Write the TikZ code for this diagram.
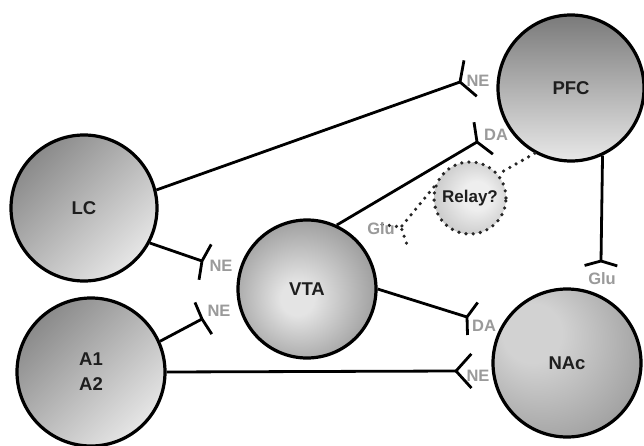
\documentclass[tikz,border=0pt]{standalone}
\usepackage{fontspec}
\setmainfont{Liberation Sans}
\usetikzlibrary{calc}
\definecolor{lbl}{HTML}{9A9A9A}
\definecolor{txt}{HTML}{1E1E1E}
\definecolor{pfcTop}{HTML}{7A7A7A}
\definecolor{pfcBot}{HTML}{E8E8E8}
\definecolor{lcTop}{HTML}{8A8A8A}
\definecolor{lcBot}{HTML}{E6E6E6}
\definecolor{vtaIn}{HTML}{E4E4E4}
\definecolor{vtaOut}{HTML}{555555}
\definecolor{nacIn}{HTML}{D2D2D2}
\definecolor{nacOut}{HTML}{666666}
\definecolor{relIn}{HTML}{EEEEEE}
\definecolor{relOut}{HTML}{A0A0A0}
\pgfdeclareradialshading{vtashade}{\pgfpoint{-4bp}{-4bp}}{color(0bp)=(vtaIn); color(6bp)=(vtaIn); color(50bp)=(vtaOut)}
\pgfdeclareradialshading{nacshade}{\pgfpoint{-14bp}{12bp}}{color(0bp)=(nacIn); color(10bp)=(nacIn); color(62bp)=(nacOut)}
\pgfdeclareradialshading{relshade}{\pgfpoint{6bp}{2bp}}{color(0bp)=(relIn); color(10bp)=(relIn); color(50bp)=(relOut)}
\newcommand\synapse[5]{%
  \draw[#5] (#1) -- (#2);
  \draw[#5] ($(#2)!#4!#3:(#1)$) -- (#2) -- ($(#2)!#4!-#3:(#1)$);}
\begin{document}
\begin{tikzpicture}[x=1pt,y=-1pt,
  region/.style={circle, draw=black, line width=3.2pt, inner sep=0pt, text=txt,
    font=\fontsize{18.5}{25}\selectfont\bfseries, align=center},
  conn/.style={line width=2.8pt, draw=black, line join=round},
  dotc/.style={line width=3.6pt, draw=black!85, dash pattern=on 0pt off 7.2pt, line cap=round},
  tlabel/.style={text=lbl, font=\fontsize{16.5}{18}\selectfont\bfseries, inner sep=0pt}]
\fill[white] (0,0) rectangle (644,446);
\useasboundingbox (0,0) rectangle (644,446);

% regions
\node[region, minimum size=146pt, top color=pfcTop, bottom color=pfcBot] (PFC) at (571,88) {PFC};
\node[region, minimum size=146pt, top color=lcTop, bottom color=lcBot, shading angle=45] (LC) at (84,208) {LC};
\node[region, minimum size=148pt, top color=lcTop, bottom color=lcBot, shading angle=45] (A) at (91,372) {A1\\A2};
\node[region, minimum size=138pt, shading=vtashade] (VTA) at (307,289) {VTA};
\node[region, minimum size=148pt, shading=nacshade] (NAc) at (567,363) {NAc};
\node[region, minimum size=72pt, shading=relshade, dotc, font=\fontsize{17}{19}\selectfont\bfseries] (Relay) at (470,198) {Relay?};

% terminals
\coordinate (tNEpfc) at (460,82);
\coordinate (tDApfc) at (477,142);
\coordinate (tGlunac) at (601,261);
\coordinate (tNEvtaA) at (202,261);
\coordinate (tNEvtaB) at (202,319);
\coordinate (tNEnac) at (456,371);
\coordinate (tDAnac) at (467,317);
\coordinate (tGluvta) at (401,227);

% connectors
\synapse{LC.14}{tNEpfc}{120}{22pt}{conn}
\synapse{VTA.65}{tDApfc}{112}{20pt}{conn}
\synapse{PFC.-65}{tGlunac}{106}{17pt}{conn}
\synapse{LC.-28}{tNEvtaA}{100}{19pt}{conn}
\synapse{A.24}{tNEvtaB}{95}{18pt}{conn}
\synapse{A.0}{tNEnac}{132}{23pt}{conn}
\synapse{VTA.0}{tDAnac}{109}{18pt}{conn}
\draw[dotc] (PFC.-119) -- (Relay.40);
\synapse{Relay.163}{tGluvta}{122}{19pt}{dotc}

% transmitter labels
\node[tlabel] (lNEpfc) at (478,81) {NE};
\node[tlabel] (lDApfc) at (496,135) {DA};
\node[tlabel] (lGlunac) at (602,279) {Glu};
\node[tlabel] (lNEvtaA) at (221,266) {NE};
\node[tlabel] (lNEvtaB) at (219,311) {NE};
\node[tlabel] (lNEnac) at (478,376) {NE};
\node[tlabel] (lDAnac) at (484,326) {DA};
\node[tlabel] (lGluvta) at (381,229) {Glu};
\end{tikzpicture}
\end{document}
